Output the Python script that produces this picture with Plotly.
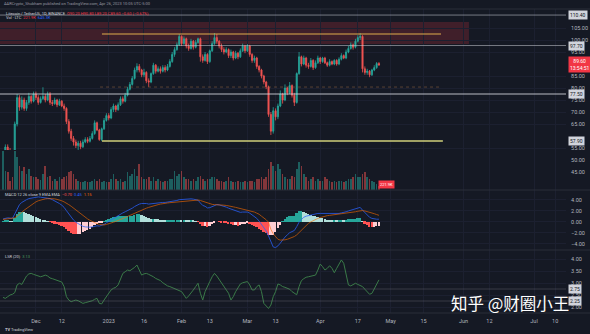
import plotly.graph_objects as go
import pandas as pd

W, H = 590, 334
def py(px):
    return 1 - px / H
XR = 566 / W

# ---------------- data ----------------
start = pd.Timestamp("2022-11-17")
dates = pd.date_range(start, periods=161, freq="D")

first_open = 50.0
close = [
    52.9, 55.4, 54.0, 50.5, 48.0, 65.0, 76.0, 72.0, 75.0, 71.5,
    74.0, 76.5, 74.5, 77.5, 76.0, 74.0, 75.5, 76.5, 75.0, 77.5,
    74.0, 73.5, 75.0, 73.0, 74.5, 72.5, 71.5, 66.0, 62.0, 59.0,
    57.5, 56.0, 57.0, 55.5, 57.5, 58.5, 57.8, 59.0, 61.0, 65.5,
    62.5, 58.5, 63.0, 66.5, 68.5, 67.5, 71.0, 72.5, 71.0, 73.0,
    75.5, 74.5, 77.0, 79.5, 81.5, 84.0, 87.5, 89.0, 87.5, 85.5,
    86.5, 83.0, 82.5, 86.0, 89.5, 87.0, 88.0, 87.0, 88.5, 87.5,
    89.0, 91.0, 94.0, 96.0, 98.0, 101.5, 98.5, 100.5, 97.5, 96.5,
    99.5, 97.0, 99.0, 100.5, 93.0, 91.5, 94.0, 91.0, 95.5, 98.5,
    101.0, 99.5, 97.5, 96.0, 95.0, 96.0, 93.5, 95.0, 92.5, 94.5,
    93.0, 95.5, 97.5, 95.5, 97.5, 94.0, 91.5, 92.5, 89.0, 87.5,
    85.0, 82.5, 80.5, 69.0, 62.0, 70.5, 68.0, 72.5, 77.5, 75.0,
    80.0, 78.0, 81.0, 77.0, 74.0, 86.0, 93.0, 90.0, 92.5, 89.5,
    89.0, 91.5, 88.5, 90.5, 92.5, 91.0, 92.5, 90.5, 89.5, 91.0,
    90.0, 91.5, 90.0, 92.0, 93.5, 92.5, 95.0, 96.5, 98.0, 97.0,
    99.5, 101.0, 101.5, 88.0, 86.5, 87.0, 85.5, 87.5, 88.5, 90.2,
    89.6]
high = [
    54, 56.5, 56.5, 55, 51.5, 66, 77.5, 77, 76.5, 76,
    75, 78, 77, 78.5, 78.5, 77, 76.5, 80.3, 77.5, 78.5,
    78.3, 75, 76, 75.5, 75.5, 75, 73.5, 72, 67, 63,
    60, 58.5, 58, 58, 58.5, 59.5, 59.5, 60, 62, 66.5,
    66, 63, 63.5, 67.5, 69.5, 69.5, 72, 73.5, 73, 74,
    76.5, 76.5, 78, 80.5, 82.5, 85, 88.5, 90.3, 90, 88,
    88, 87, 84, 86.5, 90.5, 90, 89, 89, 89.5, 89.5,
    90, 92, 95, 97, 99, 102.5, 102, 101.5, 101, 98.5,
    100.5, 100, 100, 101, 101, 94, 95, 94.5, 96, 99.5,
    102.9, 102.5, 100, 98.5, 97, 97, 96.5, 96, 95.5, 95.5,
    95, 96.5, 98.5, 98, 98.3, 98, 94.5, 93.5, 93, 89.5,
    88, 85.5, 83, 81, 70, 72, 71.5, 73.5, 79, 78,
    81.5, 80.5, 82.5, 81.5, 78, 86.5, 95, 93.5, 93.5, 93,
    90.5, 92.5, 92, 91.5, 93.5, 93, 93, 93, 91, 92,
    91.5, 92, 92, 92.8, 94.5, 94, 96, 97.5, 99, 98.5,
    100.5, 102, 102.9, 102, 89, 88, 87.5, 88, 89.5, 90.8,
    90.8]
low = [
    47, 52, 52.5, 49, 46, 47, 64, 70.5, 71, 70.5,
    70.5, 73, 73.5, 74, 75, 73, 73.5, 75, 74, 74.5,
    73, 72.5, 73, 72, 72.5, 72, 70.5, 65, 61, 58,
    56, 55, 54.2, 54.5, 55, 57, 57, 57.3, 58.5, 60.5,
    62, 58, 57.9, 62.5, 66, 66.5, 67, 70, 70, 70.5,
    72.5, 73.5, 74, 76.5, 79, 81, 83.5, 86.5, 86.5, 84.5,
    84.5, 82, 80.5, 82, 85.5, 86, 86.5, 86, 86.5, 86.5,
    87, 88.5, 90.5, 93, 95.5, 97.5, 97.5, 98, 96.5, 95.5,
    96, 96, 96.5, 98.5, 91, 90.5, 91, 90, 90.5, 95,
    98, 98.5, 96.5, 95, 94, 94.5, 92.5, 92.5, 91.5, 92,
    92, 92.5, 95, 94.5, 95, 93, 90.5, 90.5, 88, 86.5,
    84, 81.5, 79.5, 68, 60.4, 61, 66.5, 67, 72, 73.5,
    74.5, 77, 77.5, 76, 72.5, 73.5, 85.5, 89, 89.5, 88.5,
    88, 88.5, 87.5, 88, 90, 90, 90.5, 90, 88.8, 89,
    89.5, 89.5, 89.3, 89.5, 91.5, 92, 92, 94.5, 96, 96,
    96.5, 99, 100, 86.5, 85.5, 85.5, 84.5, 85, 87, 88,
    89.2]
volume_k = [
    1970, 970, 885, 470, 635, 1970, 1635, 1220, 970, 1135,
    800, 1050, 720, 635, 635, 550, 500, 800, 1220, 635,
    720, 470, 550, 470, 635, 550, 635, 720, 885, 970,
    800, 550, 470, 385, 385, 470, 385, 385, 470, 550,
    470, 550, 385, 470, 385, 385, 550, 800, 550, 470,
    550, 385, 470, 885, 720, 800, 1050, 720, 1300, 635,
    550, 550, 635, 470, 635, 470, 550, 470, 385, 470,
    470, 550, 550, 970, 720, 800, 970, 635, 550, 550,
    470, 550, 470, 635, 720, 550, 470, 550, 550, 635,
    635, 550, 470, 470, 385, 470, 635, 470, 385, 385,
    470, 385, 385, 470, 385, 470, 470, 385, 550, 550,
    635, 550, 635, 1050, 1385, 1220, 970, 1300, 1050, 800,
    635, 550, 550, 720, 635, 1050, 1385, 1220, 800, 635,
    470, 550, 635, 470, 550, 470, 470, 635, 550, 470,
    385, 470, 385, 470, 470, 385, 470, 550, 550, 635,
    800, 635, 635, 800, 885, 635, 550, 470, 385, 300,
    220]
macd = [
    0.5, 0.6, 0.7, 0.65, 0.6, 1.4, 2.4, 3.1, 3.5, 3.8,
    4.0, 4.2, 4.3, 4.4, 4.45, 4.5, 4.45, 4.4, 4.35, 4.3,
    4.2, 4.0, 3.8, 3.55, 3.3, 3.0, 2.6, 2.0, 1.4, 0.8,
    0.3, -0.1, -0.4, -0.7, -0.85, -0.95, -1.0, -1.0, -0.95, -0.8,
    -0.75, -0.8, -0.7, -0.5, -0.2, 0.05, 0.4, 0.7, 0.95, 1.2,
    1.45, 1.6, 1.8, 2.0, 2.2, 2.45, 2.75, 3.05, 3.2, 3.3,
    3.35, 3.3, 3.2, 3.25, 3.4, 3.45, 3.5, 3.5, 3.5, 3.5,
    3.55, 3.6, 3.65, 3.75, 3.85, 4.0, 4.05, 4.1, 4.1, 4.1,
    4.15, 4.1, 4.0, 3.9, 3.4, 2.95, 2.8, 2.5, 2.55, 2.75,
    3.0, 3.1, 3.05, 2.95, 2.8, 2.65, 2.45, 2.3, 2.05, 1.95,
    1.75, 1.7, 1.75, 1.7, 1.75, 1.55, 1.25, 1.05, 0.6, 0.1,
    -0.5, -1.1, -1.7, -2.6, -3.8, -4.6, -4.7, -4.4, -3.9, -3.3,
    -2.8, -2.4, -2.0, -1.8, -1.6, -0.9, -0.1, 0.4, 0.8, 1.0,
    1.1, 1.25, 1.3, 1.4, 1.5, 1.5, 1.5, 1.45, 1.4, 1.4,
    1.4, 1.45, 1.45, 1.5, 1.6, 1.65, 1.8, 1.95, 2.1, 2.2,
    2.35, 2.5, 2.6, 2.1, 1.6, 1.2, 0.8, 0.6, 0.5, 0.45,
    0.45]
signal = [
    0.4, 0.45, 0.5, 0.53, 0.55, 0.7, 1.0, 1.3, 1.7, 2.1,
    2.4, 2.8, 3.1, 3.4, 3.6, 3.8, 3.95, 4.05, 4.15, 4.2,
    4.22, 4.2, 4.15, 4.05, 3.95, 3.8, 3.6, 3.4, 3.1, 2.8,
    2.45, 2.1, 1.8, 1.45, 1.1, 0.8, 0.5, 0.25, 0.0, -0.2,
    -0.35, -0.5, -0.6, -0.6, -0.5, -0.4, -0.25, -0.1, 0.05, 0.2,
    0.4, 0.55, 0.75, 0.95, 1.15, 1.35, 1.55, 1.7, 1.85, 2.05,
    2.25, 2.45, 2.6, 2.75, 2.9, 3.0, 3.1, 3.2, 3.3, 3.35,
    3.4, 3.45, 3.5, 3.55, 3.6, 3.65, 3.7, 3.75, 3.8, 3.85,
    3.9, 3.92, 3.93, 3.93, 3.85, 3.7, 3.55, 3.4, 3.25, 3.15,
    3.1, 3.1, 3.08, 3.05, 3.0, 2.95, 2.9, 2.8, 2.7, 2.6,
    2.5, 2.35, 2.25, 2.15, 2.05, 1.95, 1.85, 1.75, 1.55, 1.35,
    1.0, 0.7, 0.35, -0.1, -1.4, -2.2, -2.8, -3.2, -3.35, -3.35,
    -3.3, -3.2, -3.05, -2.9, -2.7, -2.4, -2.0, -1.5, -1.05, -0.65,
    -0.3, -0.05, 0.2, 0.4, 0.6, 0.75, 0.9, 1.0, 1.1, 1.15,
    1.2, 1.25, 1.3, 1.35, 1.4, 1.45, 1.5, 1.55, 1.62, 1.7,
    1.8, 1.9, 2.0, 2.02, 1.95, 1.85, 1.75, 1.6, 1.45, 1.3,
    1.15]
lsr = [
    2.40, 2.36, 2.43, 2.50, 2.53, 2.60, 2.92, 2.99, 2.94, 3.13,
    3.29, 3.38, 3.40, 3.36, 3.33, 3.31, 3.26, 3.29, 3.33, 3.29,
    3.21, 3.18, 3.14, 3.10, 3.07, 3.04, 2.85, 2.43, 2.29, 2.22,
    2.26, 2.29, 2.26, 2.21, 2.15, 2.18, 2.21, 2.22, 2.26, 2.32,
    2.36, 2.15, 2.13, 2.29, 2.43, 2.60, 2.71, 2.78, 2.82, 2.92,
    3.13, 3.40, 3.47, 3.54, 3.51, 3.57, 3.65, 3.75, 3.51, 3.33,
    3.38, 3.40, 3.36, 3.32, 3.26, 3.19, 3.15, 3.10, 3.01, 2.94,
    2.88, 2.85, 2.81, 2.78, 2.74, 2.68, 2.64, 2.50, 2.36, 2.46,
    2.57, 2.71, 2.85, 2.99, 2.57, 2.29, 2.64, 2.88, 3.06, 3.26,
    3.40, 3.29, 3.15, 2.99, 2.85, 2.71, 2.57, 2.29, 2.43, 2.64,
    2.82, 2.96, 3.01, 3.04, 3.06, 2.92, 2.71, 2.71, 2.85, 2.92,
    2.64, 2.15, 2.04, 1.94, 2.08, 2.43, 2.64, 2.96, 2.92, 2.85,
    2.82, 2.79, 2.74, 2.64, 2.57, 2.51, 2.85, 3.10, 3.18, 3.24,
    3.26, 3.29, 3.32, 3.33, 3.54, 3.79, 3.68, 3.54, 3.61, 3.72,
    3.61, 3.43, 3.61, 3.82, 3.96, 3.82, 3.33, 2.92, 2.88, 2.93,
    2.99, 2.94, 2.89, 2.85, 2.74, 2.64, 2.53, 2.57, 2.74, 2.92,
    3.13]

price_ticks = [105, 100, 95, 85, 80, 75, 70, 65, 55, 50, 45]
macd_ticks = [4, 2, 0, -2, -4]
lsr_ticks = [4.0, 3.5, 3.0, 2.5, 2.0]
time_tick_dates = ["2022-12-01", "2022-12-12", "2023-01-01", "2023-01-16", "2023-02-01",
                   "2023-02-13", "2023-03-01", "2023-03-13", "2023-04-01", "2023-04-17",
                   "2023-05-01", "2023-05-15", "2023-06-01", "2023-06-12", "2023-07-01",
                   "2023-07-10"]
time_tick_text = ["Dec", "12", "2023", "16", "Feb", "13", "Mar", "13", "Apr", "17",
                  "May", "15", "Jun", "12", "Jul", "10"]

# levels drawn on the chart
LEVEL_TOP_RAY = 110.4
ZONE_TOP, ZONE_BOTTOM = 107.5, 98.3
LEVEL_UPPER = 97.7
RESISTANCE = 102.5
MID_DOTTED = 80.4
LEVEL_WHITE = 77.5
SUPPORT = 57.9
LSR_BANDS = [2.75, 2.25]

# ---------------- style ----------------
BG = "#151924"
GRID = "#1c2030"
TXT = "#b2b5be"
UP, DN = "#26a69a", "#ef5350"
FONT = "Roboto"

opens = [first_open] + close[:-1]
high = [max(h, o, c) for h, o, c in zip(high, opens, close)]
low = [min(l, o, c) for l, o, c in zip(low, opens, close)]
hist = [m - s for m, s in zip(macd, signal)]

def d(days):
    return start + pd.Timedelta(days=days)

xr = [d(-1.28), d(239.6)]

fig = go.Figure()
fig.add_trace(go.Candlestick(
    x=dates, open=opens, high=high, low=low, close=close,
    increasing=dict(line=dict(color=UP, width=0.8), fillcolor=UP),
    decreasing=dict(line=dict(color=DN, width=0.8), fillcolor=DN),
    whiskerwidth=0, xaxis="x", yaxis="y", hoverinfo="skip", showlegend=False))

vol_colors = ["rgba(38,166,154,0.5)" if c >= o else "rgba(239,83,80,0.5)"
              for o, c in zip(opens, close)]
fig.add_trace(go.Bar(x=dates, y=volume_k, marker=dict(color=vol_colors, line=dict(width=0)),
                     width=0.7 * 86400000, xaxis="x", yaxis="y2", showlegend=False))

hcol = []
prev = 0
for h in hist:
    if h >= 0:
        hcol.append("#26a69a" if h >= prev else "#b2dfdb")
    else:
        hcol.append("#ffcdd2" if h >= prev else "#ff5252")
    prev = h
fig.add_trace(go.Bar(x=dates, y=hist, marker=dict(color=hcol, line=dict(width=0)),
                     width=0.75 * 86400000, xaxis="x", yaxis="y3", showlegend=False))
fig.add_trace(go.Scatter(x=dates, y=macd, mode="lines", line=dict(color="#2962ff", width=1),
                         opacity=0.75, xaxis="x", yaxis="y3", showlegend=False))
fig.add_trace(go.Scatter(x=dates, y=signal, mode="lines", line=dict(color="#ff6d00", width=1),
                         opacity=0.6, xaxis="x", yaxis="y3", showlegend=False))
fig.add_trace(go.Scatter(x=dates, y=lsr, mode="lines", line=dict(color="#3a7a48", width=1),
                         xaxis="x", yaxis="y4", showlegend=False))

axfont = dict(family=FONT, size=5.5, color=TXT)
yax_common = dict(side="right", anchor="x", zeroline=False, showline=False,
                  ticks="outside", ticklen=3, tickcolor=BG, tickfont=axfont,
                  showgrid=True, gridcolor=GRID, gridwidth=1)

fig.update_layout(
    width=W, height=H, margin=dict(l=0, r=0, t=0, b=0),
    paper_bgcolor=BG, plot_bgcolor=BG, showlegend=False, bargap=0,
    font=dict(family=FONT, color=TXT),
    xaxis=dict(domain=[0, XR], anchor="y4", type="date", range=xr,
               tickvals=time_tick_dates, ticktext=time_tick_text,
               tickfont=dict(family=FONT, size=5.5, color=TXT),
               ticks="outside", ticklen=2, tickcolor=BG,
               showgrid=True, gridcolor=GRID, zeroline=False, showline=False,
               rangeslider=dict(visible=False)),
    yaxis=dict(domain=[py(190), py(9)], range=[37.5, 112.92],
               tickvals=price_ticks, ticktext=[f"{v:.2f}" for v in price_ticks], **yax_common),
    yaxis2=dict(domain=[py(190), py(150)], range=[0, 2000], anchor="x",
                showgrid=False, showticklabels=False, zeroline=False),
    yaxis3=dict(domain=[py(250), py(190)], range=[-5.15, 5.76],
                tickvals=macd_ticks, ticktext=[f"{v:.2f}".replace("-", "\u2212") for v in macd_ticks],
                **yax_common),
    yaxis4=dict(domain=[py(313), py(250)], range=[1.75, 4.375],
                tickvals=lsr_ticks, ticktext=[f"{v:.2f}" for v in lsr_ticks], **yax_common),
)

shapes = []
# pane separators
for px in [9, 190, 250, 313]:
    shapes.append(dict(type="line", xref="paper", yref="paper", x0=0, x1=1,
                       y0=py(px), y1=py(px), line=dict(color="#2a2e39", width=1)))
shapes.append(dict(type="rect", xref="x", yref="y", x0=xr[0], x1=d(198.3),
                   y0=ZONE_BOTTOM, y1=ZONE_TOP, fillcolor="rgba(242,54,69,0.2)",
                   line=dict(width=0), layer="below"))
for lv, col in [(LEVEL_TOP_RAY, "rgba(200,202,210,0.55)"), (LEVEL_UPPER, "rgba(200,202,210,0.55)"),
                (LEVEL_WHITE, "rgba(215,217,224,0.85)")]:
    shapes.append(dict(type="line", xref="paper", yref="y", x0=0, x1=XR, y0=lv, y1=lv,
                       line=dict(color=col, width=1)))
shapes.append(dict(type="line", xref="x", yref="y", x0=d(42.1), x1=d(186.4), y0=RESISTANCE,
                   y1=RESISTANCE, line=dict(color="#e0ad4c", width=1.2)))
shapes.append(dict(type="line", xref="x", yref="y", x0=d(41.3), x1=d(186.0), y0=MID_DOTTED,
                   y1=MID_DOTTED, line=dict(color="rgba(170,115,70,0.45)", width=1, dash="dot")))
shapes.append(dict(type="line", xref="x", yref="y", x0=d(42.1), x1=d(187.2), y0=SUPPORT,
                   y1=SUPPORT, line=dict(color="#cfcf7a", width=1.6)))
for lv in LSR_BANDS:
    shapes.append(dict(type="line", xref="paper", yref="y4", x0=0, x1=XR, y0=lv, y1=lv,
                       line=dict(color="rgba(120,123,134,0.35)", width=1)))
fig.update_layout(shapes=shapes)

ann = []
def txt(x, ypx, text, size=4.5, color=TXT, anchor="left"):
    ann.append(dict(xref="paper", yref="paper", x=x / W, y=py(ypx), text=text, showarrow=False,
                    xanchor=anchor, yanchor="middle", font=dict(family=FONT, size=size, color=color)))

txt(2, 4, "AARCrypto_Shubham published on TradingView.com, Apr 26, 2023 10:05 UTC-5:00", 4, "#9598a1")
txt(4, 13, "Litecoin / TetherUS, 1D, BINANCE  <span style='color:#f23645'>O90.20 H90.80 L89.20 C89.60 \u22120.60 (\u22120.67%)</span>", 4, "#d1d4dc")
txt(4, 18, "Vol \u00b7 LTC  <span style='color:#f23645'>221.9K</span>  <span style='color:#2962ff'>645.3K</span>", 4, "#d1d4dc")
txt(3, 194, "MACD 12 26 close 9 EMA EMA  <span style='color:#ff5252'>\u22120.70</span>  <span style='color:#2962ff'>0.45</span>  <span style='color:#ff6d00'>1.15</span>", 4, "#d1d4dc")
txt(3, 256, "LSR (20)  <span style='color:#4c9a5f'>3.13</span>", 4, "#d1d4dc")
txt(3, 329, "<b>TV</b> TradingView", 4, "#d1d4dc")
ann.append(dict(xref="paper", yref="paper", x=510 / W, y=py(303), text="知乎 @财圈小王",
                showarrow=False, xanchor="center", yanchor="middle",
                font=dict(family="Noto Sans CJK SC", size=16.5, color="#ffffff")))

def box(yref, val, text, bg, fg):
    ann.append(dict(xref="paper", yref=yref, x=XR, y=val, text=text, showarrow=False,
                    xanchor="left", yanchor="middle", xshift=2, bgcolor=bg, borderpad=1,
                    font=dict(family=FONT, size=5, color=fg)))

for lv in [LEVEL_TOP_RAY, LEVEL_UPPER, LEVEL_WHITE, SUPPORT]:
    box("y", lv, f"{lv:.2f}", "#d1d4dc", "#131722")
box("y", close[-1], f"{close[-1]:.2f}<br>13:54:51", "#f23645", "#ffffff")
for lv in LSR_BANDS:
    box("y4", lv, f"{lv:.2f}", "#d1d4dc", "#131722")
ann.append(dict(xref="x", yref="paper", x=d(163), y=py(184), text="221.9K", showarrow=False,
                xanchor="center", yanchor="middle", bgcolor="#f23645", borderpad=1,
                font=dict(family=FONT, size=4, color="#ffffff")))
fig.update_layout(annotations=ann)

fig.write_html("out.html")
